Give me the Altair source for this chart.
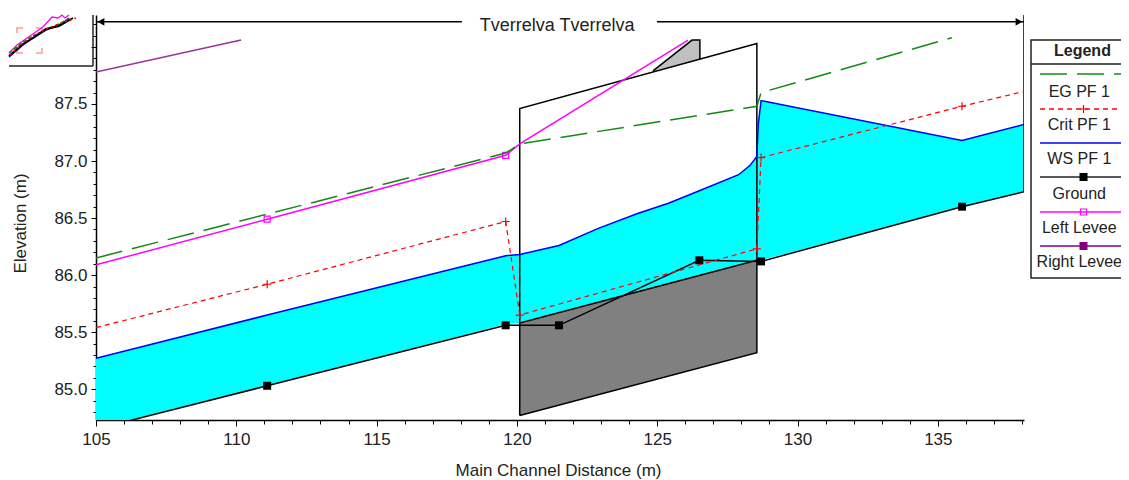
import altair as alt
import pandas as pd

FONT = "Liberation Sans"
TXT = "#222222"
FS = 17
LEG_FS = 16

# ---------- main profile values (station m, elevation m) ----------
ws_x = [105, 111.1, 119.6, 120.1, 121.5, 122.9, 124.3, 125.4, 126.5, 127.9, 128.3, 128.55, 128.6, 128.7, 135.86, 138.07]
ws_y = [85.27, 85.65, 86.17, 86.18, 86.26, 86.41, 86.54, 86.63, 86.74, 86.88, 86.96, 87.04, 87.32, 87.53, 87.18, 87.32]
bed_y = [84.65, 85.03, 85.57, 85.58, 85.67, 85.76, 85.86, 85.93, 86.0, 86.09, 86.11, 86.13, 86.13, 86.13, 86.6, 86.73]

ground_x = [105, 111.1, 119.6, 121.5, 126.5, 128.7, 135.86, 138.07]
ground_y = [84.65, 85.03, 85.56, 85.56, 86.13, 86.12, 86.6, 86.73]

eg_x = [105, 119.6, 120.1, 128.55, 128.7, 135.5]
eg_y = [86.15, 87.07, 87.15, 87.48, 87.6, 88.08]

crit_x = [105, 111.1, 119.6, 120.1, 128.55, 128.7, 135.86, 138.07]
crit_y = [85.54, 85.92, 86.47, 85.65, 86.23, 87.03, 87.48, 87.61]

left_x = [105, 111.1, 119.6, 120.1, 126.1]
left_y = [86.09, 86.49, 87.05, 87.15, 88.06]

right_x = [105, 110.17]
right_y = [87.78, 88.06]

# bridge section
deck_x = [120.1, 128.55]
deck_top = [85.58, 86.13]
deck_bot = [84.77, 85.32]
frame_x = [120.1, 120.1, 128.55, 128.55, 120.1]
frame_y = [84.77, 87.46, 88.03, 85.32, 84.77]
road_x = [124.85, 126.24, 126.52]
road_top = [87.79, 88.06, 88.06]
road_bot = [87.79, 87.87, 87.89]
road_line_x = [124.85, 126.24, 126.52, 126.52]
road_line_y = [87.79, 88.06, 88.06, 87.89]

x_ticks = list(range(105, 139))
y_ticks = [round(84.8 + 0.1 * i, 1) for i in range(35)]

TITLE = "Tverrelva Tverrelva"
LEG_ROWS = ["EG  PF 1", "Crit  PF 1", "WS  PF 1", "Ground", "Left Levee", "Right Levee"]

X_DOM = [105, 138.07]
Y_DOM = [84.73, 88.28]
xs = alt.Scale(domain=X_DOM, nice=False, zero=False)
ys = alt.Scale(domain=Y_DOM, nice=False, zero=False)

MAJOR_X = "datum.value % 5 === 0"
MAJOR_Y = "abs(datum.value * 2 - round(datum.value * 2)) < 0.001"

x_enc = alt.X("x:Q", scale=xs, axis=alt.Axis(
    values=x_ticks, title="Main Channel Distance (m)", grid=False, format="d",
    labelExpr=f"{MAJOR_X} ? datum.label : ''", labelOverlap=False, labelFlush=False,
    tickSize={"condition": {"test": MAJOR_X, "value": 6}, "value": 4},
    tickColor="black", domainColor="black", domainWidth=1.5,
    labelFont=FONT, labelFontSize=FS, labelColor=TXT, labelPadding=5,
    titleFont=FONT, titleFontSize=FS, titleFontWeight="normal", titleColor=TXT,
    titleBaseline="middle", titleX=462, titleY=50))
y_enc = alt.Y("y:Q", scale=ys, axis=alt.Axis(
    values=y_ticks, title="Elevation (m)", grid=False, format=".1f",
    labelExpr=f"{MAJOR_Y} && datum.value < 87.9 ? datum.label : ''", labelOverlap=False, labelFlush=False,
    tickSize={"condition": {"test": MAJOR_Y, "value": 5}, "value": 3},
    tickColor="black", domainColor="black", domainWidth=1.5,
    labelFont=FONT, labelFontSize=FS, labelColor=TXT, labelPadding=4,
    titleFont=FONT, titleFontSize=FS, titleFontWeight="normal", titleColor=TXT,
    titleBaseline="middle", titleX=-76, titleY=208))
X = alt.X("x:Q", scale=xs, axis=None)
Y = alt.Y("y:Q", scale=ys, axis=None)


def df(x, y, **extra):
    d = pd.DataFrame({"x": x, "y": y, **extra})
    d["i"] = range(len(d))
    return d


def line(x, y, color, width=1.5, dash=None, first=False):
    kw = dict(color=color, strokeWidth=width, clip=True)
    if dash:
        kw["strokeDash"] = dash
    return alt.Chart(df(x, y)).mark_line(**kw).encode(
        x=x_enc if first else X, y=y_enc if first else Y, order="i:Q")


def area(x, y, y2, color):
    return alt.Chart(df(x, y, y2=y2)).mark_area(fill=color, stroke=None, clip=True).encode(
        x=X, y=Y, y2=alt.Y2("y2"))


def marks(x, y, **kw):
    return alt.Chart(df(x, y)).mark_point(clip=True, opacity=1, **kw).encode(x=X, y=Y)


PLUS = "M-1,0L1,0M0,-1L0,1"

main_layers = [
    line(deck_x, deck_top, "black", 1.5, first=True),
    area(ws_x, ws_y, bed_y, "#00ffff"),
    area(deck_x, deck_top, deck_bot, "#808080"),
    area(road_x, road_top, road_bot, "#c0c0c0"),
    line(deck_x, deck_top, "black", 1.5),
    line(frame_x, frame_y, "black", 1.5),
    line(road_line_x, road_line_y, "black", 1.5),
    line(ground_x, ground_y, "black", 1.5),
    marks(ground_x[1:-1], ground_y[1:-1], shape="square", size=64, filled=True, color="black"),
    line([X_DOM[1], X_DOM[1]], [86.73, Y_DOM[1]], "black", 1.5),
    line(ws_x, ws_y, "#0000ff", 1.5),
    line(left_x, left_y, "#ff00ff", 1.5),
    marks(left_x[1:3], left_y[1:3], shape="square", size=36, filled=False, color="#ff00ff", strokeWidth=1.2),
    line(right_x, right_y, "#993399", 1.5),
    line(eg_x, eg_y, "#118a11", 1.5, dash=[27, 10]),
    line(crit_x, crit_y, "#ff0000", 1.2, dash=[5, 4]),
    marks(crit_x[1:-1], crit_y[1:-1], shape=PLUS, size=64, filled=False, color="#ff0000", strokeWidth=1.2),
    line([105, 118.04], [88.22, 88.22], "black", 1.5),
    line([124.99, 138.07], [88.22, 88.22], "black", 1.5),
    marks([105.18], [88.22], shape="triangle-left", size=60, filled=True, color="black"),
    marks([137.89], [88.22], shape="triangle-right", size=60, filled=True, color="black"),
    alt.Chart(pd.DataFrame({"x": [121.43], "y": [88.18], "t": [TITLE]})).mark_text(
        font=FONT, fontSize=18, color=TXT, align="center", baseline="middle"
    ).encode(x=X, y=Y, text="t:N"),
]

# ---------- overview map, top-left, on its own small scale ----------
ov_scale_x = alt.Scale(domain=[0, 84], range=[-87, -3], nice=False, zero=False)
ov_scale_y = alt.Scale(domain=[0, 51], range=[0, 51], nice=False, zero=False)
OX = alt.X("x:Q", scale=ov_scale_x, axis=None)
OY = alt.Y("y:Q", scale=ov_scale_y, axis=None)

ov_box_c1x, ov_box_c1y = [8, 8, 14], [18, 13, 13]
ov_box_c2x, ov_box_c2y = [27, 33, 33], [13, 13, 18]
ov_box_c3x, ov_box_c3y = [8, 8, 14], [33, 38, 38]
ov_box_c4x, ov_box_c4y = [27, 33, 33], [38, 38, 33]
ov_mag_x = [0, 8, 18, 34, 43, 49, 53, 56, 60]
ov_mag_y = [38, 30, 23, 12, 2, 3, 0, 3, 0]
ov_grn_x = [0, 14, 24, 37, 50, 62]
ov_grn_y = [38, 27, 21, 15, 9, 2]
ov_blu_x = [0, 14, 24, 37, 50, 60]
ov_blu_y = [42, 30, 23, 15, 10, 4]
ov_blk_x = [0, 14, 24, 37, 50, 64]
ov_blk_y = [41, 29, 23, 14, 11, 3]
ov_red_x = [1, 14, 24, 37, 50, 67]
ov_red_y = [40, 28, 21, 14, 9, 3]
ov_frame_h_x, ov_frame_h_y = [0, 84], [51, 51]
ov_frame_v_x, ov_frame_v_y = [84, 84], [0, 51]


def ov(x, y, color, width=1.5, dash=None):
    kw = dict(color=color, strokeWidth=width, clip=False)
    if dash:
        kw["strokeDash"] = dash
    return alt.Chart(df(x, y)).mark_line(**kw).encode(x=OX, y=OY, order="i:Q")


overview_layers = [
    ov(ov_box_c1x, ov_box_c1y, "#ff9999"), ov(ov_box_c2x, ov_box_c2y, "#ff9999"),
    ov(ov_box_c3x, ov_box_c3y, "#ff9999"), ov(ov_box_c4x, ov_box_c4y, "#ff9999"),
    ov(ov_mag_x, ov_mag_y, "#ff00ff", 1.3),
    ov(ov_blu_x, ov_blu_y, "#0000ff", 1.5),
    ov(ov_grn_x, ov_grn_y, "#118a11", 1.5, dash=[4, 2]),
    ov(ov_blk_x, ov_blk_y, "black", 2),
    ov(ov_red_x, ov_red_y, "#ff0000", 1.5, dash=[2, 3]),
    ov(ov_frame_h_x, ov_frame_h_y, "#222222", 1.5),
    ov(ov_frame_v_x, ov_frame_v_y, "#222222", 1.5),
]

# ---------- legend box, on its own small scale ----------
lg_x = alt.Scale(domain=[0, 1], range=[935, 1040], nice=False, zero=False)
lg_y = alt.Scale(domain=[0, 238], range=[25, 263], nice=False, zero=False)
LX = alt.X("x:Q", scale=lg_x, axis=None)
LY = alt.Y("y:Q", scale=lg_y, axis=None)

leg_colors = ["#118a11", "#ff0000", "#0000ff", "#222222", "#ff00ff", "#800080"]
leg_sample_y = [34, 69, 103, 137, 172, 206]
leg_label_y = [52, 85, 119, 154, 188, 222]
leg_dash = [[27, 10], [5, 4], None, None, None, None]

legend_layers = [
    alt.Chart(pd.DataFrame({"x": [0], "x2": [1], "y": [0], "y2": [238]})).mark_rect(
        fill="white", stroke="#222222", strokeWidth=1.5, clip=False, opacity=1
    ).encode(x=LX, x2="x2:Q", y=LY, y2="y2:Q"),
    alt.Chart(df([0, 1], [24, 24])).mark_line(color="#222222", strokeWidth=1.5).encode(x=LX, y=LY),
    alt.Chart(pd.DataFrame({"x": [0.49], "y": [11], "t": ["Legend"]})).mark_text(
        font=FONT, fontSize=LEG_FS, fontWeight="bold", color=TXT, align="center", baseline="middle"
    ).encode(x=LX, y=LY, text="t:N"),
]
for name, c, sy, ly, d in zip(LEG_ROWS, leg_colors, leg_sample_y, leg_label_y, leg_dash):
    kw = dict(color=c, strokeWidth=1.5, clip=False)
    if d:
        kw["strokeDash"] = d
    legend_layers.append(alt.Chart(df([0.086, 1], [sy, sy])).mark_line(**kw).encode(x=LX, y=LY))
    legend_layers.append(alt.Chart(pd.DataFrame({"x": [0.46], "y": [ly], "t": [name]})).mark_text(
        font=FONT, fontSize=LEG_FS, color=TXT, align="center", baseline="middle"
    ).encode(x=LX, y=LY, text="t:N"))

for idx, kw in [
    (1, dict(shape=PLUS, size=64, filled=False, color="#ff0000", strokeWidth=1.2)),
    (3, dict(shape="square", size=64, filled=True, color="black")),
    (4, dict(shape="square", size=36, filled=False, color="#ff00ff", strokeWidth=1.2)),
    (5, dict(shape="square", size=64, filled=True, color="#800080")),
]:
    legend_layers.append(alt.Chart(df([0.5], [leg_sample_y[idx]])).mark_point(opacity=1, **kw).encode(x=LX, y=LY))

chart = (
    alt.layer(*main_layers, *overview_layers, *legend_layers)
    .resolve_scale(x="independent", y="independent")
    .properties(
        width=928, height=405, autosize="none",
        padding={"left": 88, "top": 7, "right": 97, "bottom": 60},
        background="white",
    )
    .configure_view(stroke=None)
)

chart.save("out.html", embed_options={"renderer": "svg", "actions": False})
